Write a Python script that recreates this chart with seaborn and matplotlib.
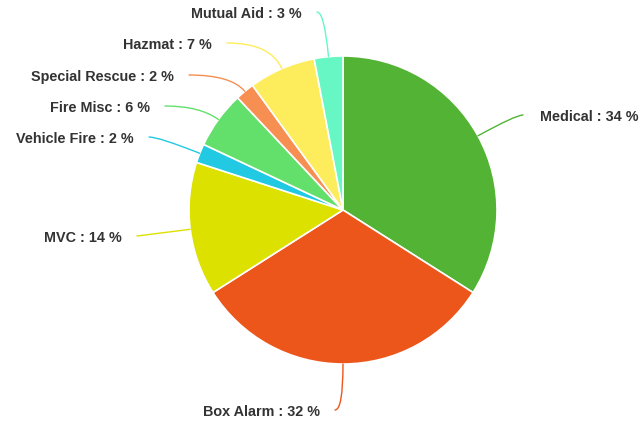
import numpy as np
import seaborn as sns
from matplotlib import pyplot as plt

# incident types, clockwise from 12 o'clock
categories = ["Medical", "Box Alarm", "MVC", "Vehicle Fire", "Fire Misc",
              "Special Rescue", "Hazmat", "Mutual Aid"]
percents = [34, 32, 14, 2, 6, 2, 7, 3]
colors = ["#52b334", "#ec561b", "#dde100", "#22c9e3", "#63e06b",
          "#f78e52", "#fded5c", "#66f7c5"]

# label placement in pixels (x anchor, y from top, alignment)
label_x = [540, 320, 122, 134, 150, 174, 212, 302]
label_y = [117, 412, 238, 139, 108, 77, 45, 14]
label_ha = ["left", "right", "right", "right", "right", "right", "right", "right"]

W, H = 641, 423
CX, CY, R = 343, H - 210, 154

sns.set_theme(style="white")
plt.rcParams['font.family'] = ['Liberation Sans', 'DejaVu Sans']

fig = plt.figure(figsize=(W / 100, H / 100), dpi=100)
ax = fig.add_axes([0, 0, 1, 1])

wedges, _ = ax.pie(percents, colors=colors, startangle=90, counterclock=False,
                   center=(CX, CY), radius=R,
                   wedgeprops=dict(edgecolor="white", linewidth=1.2))

ax.set_xlim(0, W)
ax.set_ylim(0, H)
ax.set_aspect("equal")
ax.axis("off")

for w, name, pct, col, lx, ly, ha in zip(wedges, categories, percents, colors,
                                         label_x, label_y, label_ha):
    mid = np.deg2rad((w.theta1 + w.theta2) / 2)
    px, py = CX + R * np.cos(mid), CY + R * np.sin(mid)
    y = H - ly
    ax.text(lx, y, f"{name} : {pct} %", ha=ha, va="center", fontsize=10.4,
            fontweight="bold", color="#333333")
    sx = lx + 15 if ha == "right" else lx - 17
    ang_b = np.rad2deg(mid) % 180
    if abs(ang_b) < 5 or abs(ang_b - 180) < 5:
        ang_b = 10
    ax.annotate("", xy=(px, py), xytext=(sx, y + 2),
                arrowprops=dict(arrowstyle="-", color=col, lw=1,
                                shrinkA=0, shrinkB=0,
                                connectionstyle=f"angle3,angleA=0,angleB={ang_b:.1f}"))

fig.savefig("out.png", dpi=100)
